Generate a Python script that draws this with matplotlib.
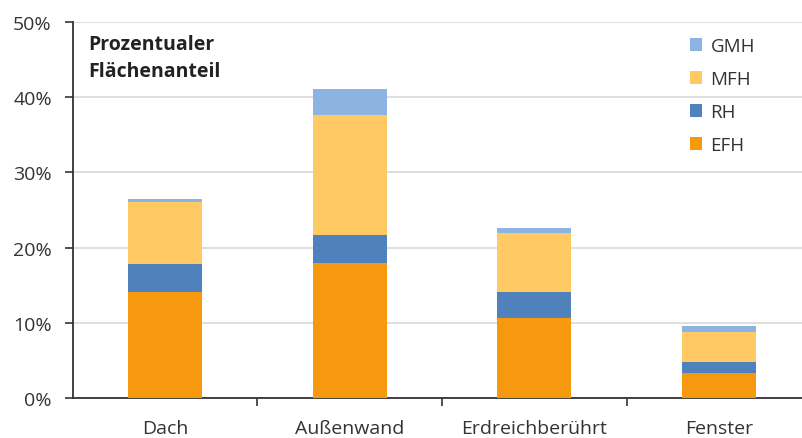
import matplotlib.pyplot as plt
import numpy as np

# data (percent of total area)
categories = ["Dach", "Außenwand", "Erdreichberührt", "Fenster"]
series = ["EFH", "RH", "MFH", "GMH"]
efh = [14.1, 18.0, 10.6, 3.3]
rh = [3.7, 3.7, 3.5, 1.5]
mfh = [8.2, 15.9, 7.9, 4.0]
gmh = [0.5, 3.5, 0.6, 0.8]
colors = ["#F7990F", "#4F81BD", "#FFCA63", "#8DB3E2"]

plt.rcParams['font.family'] = ['Open Sans', 'DejaVu Sans']

fig = plt.figure(figsize=(8.03, 4.39), dpi=100)
ax = fig.add_axes([72.7 / 803, 39.7 / 439, 738.5 / 803, 376.6 / 439])

x = np.arange(len(categories))
bottom = np.zeros(len(categories))
handles = []
for name, vals, col in zip(series, [efh, rh, mfh, gmh], colors):
    b = ax.bar(x, vals, width=0.4, bottom=bottom, color=col, label=name, zorder=3)
    handles.append(b)
    bottom += np.array(vals)

ax.set_xlim(-0.5, 3.5)
ax.set_ylim(0, 50)
ax.set_yticks(range(0, 51, 10))
ax.set_yticklabels([f"{v}%" for v in range(0, 51, 10)])
ax.yaxis.grid(True, color="#D9D9D9", linewidth=1.2, zorder=0)
ax.set_axisbelow(True)

ax.set_xticks(x)
ax.set_xticklabels(categories)
ax.set_xticks([0.5, 1.5, 2.5], minor=True)
ax.tick_params(axis='x', which='major', length=0, pad=15, labelsize=14, labelcolor="#333333")
ax.tick_params(axis='x', which='minor', length=6, width=1.2, color="#333333")
ax.tick_params(axis='y', length=6, width=1.2, pad=9, labelsize=14, labelcolor="#333333", color="#333333")

for s in ["top", "right"]:
    ax.spines[s].set_visible(False)
for s in ["left", "bottom"]:
    ax.spines[s].set_color("#333333")
    ax.spines[s].set_linewidth(1.3)

fig.text(88 / 803, 1 - 35 / 439, "Prozentualer\nFlächenanteil", fontsize=14,
         fontweight="bold", va="top", ha="left", color="#222222", linespacing=1.45)

fig.legend(handles[::-1], series[::-1], loc="upper left",
           bbox_to_anchor=(690 / 803, 1 - 38 / 439), frameon=False,
           fontsize=13.5, handlelength=0.65, handleheight=0.65,
           handletextpad=0.45, labelspacing=0.8, borderpad=0, borderaxespad=0,
           labelcolor="#333333")

fig.savefig("out.png", dpi=100)
